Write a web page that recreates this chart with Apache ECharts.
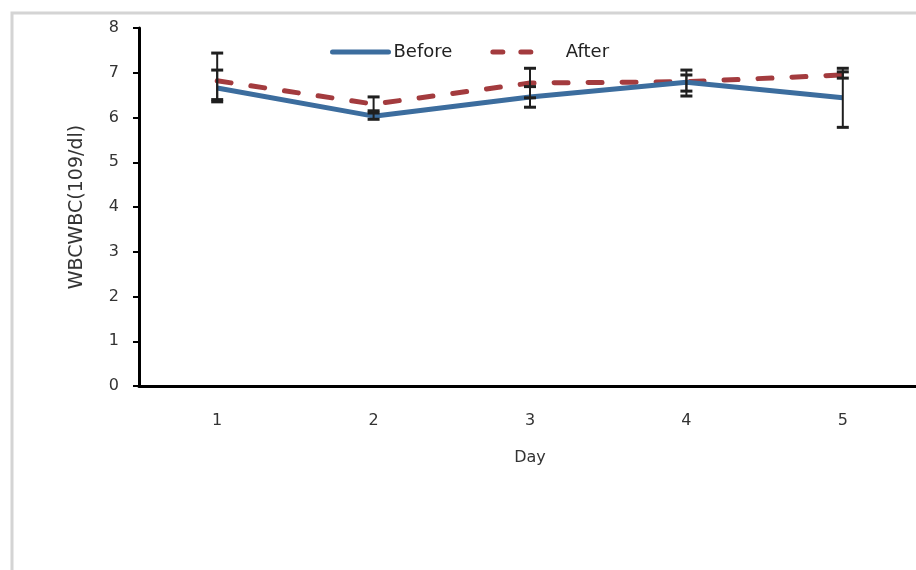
<!DOCTYPE html>
<html>
<head>
<meta charset="utf-8">
<title>WBC</title>
<script src="https://cdn.jsdelivr.net/npm/echarts@6/dist/echarts.min.js"></script>
<style>
  html, body { margin: 0; padding: 0; background: #fff; }
  #main { width: 916px; height: 570px; }
</style>
</head>
<body>
<div id="main"></div>
<script>
// data
var days = ['1', '2', '3', '4', '5'];
var before = [6.66, 6.03, 6.46, 6.79, 6.44];
var after = [6.82, 6.30, 6.77, 6.80, 6.95];
// error bar ends (absolute values)
var beforeLow = [6.35, 5.96, 6.23, 6.48, 5.78];
var beforeHigh = [7.06, 6.10, 6.69, 7.06, 7.10];
var afterLow = [6.40, 6.15, 6.44, 6.59, 6.88];
var afterHigh = [7.44, 6.46, 7.10, 6.95, 7.02];

var blue = '#3c6d9e';
var red = '#a33b3e';

var errData = [];
for (var i = 0; i < days.length; i++) {
  errData.push([i, beforeLow[i], beforeHigh[i]]);
  errData.push([i, afterLow[i], afterHigh[i]]);
}

function renderErr(params, api) {
  var x = api.value(0);
  var lo = api.coord([x, api.value(1)]);
  var hi = api.coord([x, api.value(2)]);
  var w = 6;
  var bar = { stroke: '#1f1f1f', lineWidth: 2 };
  var cap = { stroke: '#1f1f1f', lineWidth: 3 };
  return {
    type: 'group',
    children: [
      { type: 'line', shape: { x1: lo[0], y1: lo[1], x2: hi[0], y2: hi[1] }, style: bar },
      { type: 'line', shape: { x1: lo[0] - w, y1: lo[1], x2: lo[0] + w, y2: lo[1] }, style: cap },
      { type: 'line', shape: { x1: hi[0] - w, y1: hi[1], x2: hi[0] + w, y2: hi[1] }, style: cap }
    ]
  };
}

var myChart = echarts.init(document.getElementById('main'));
myChart.setOption({
  animation: false,
  textStyle: { fontFamily: 'DejaVu Sans' },
  graphic: [{
    type: 'rect',
    z: -10,
    shape: { x: 12, y: 13, width: 1000, height: 1000 },
    style: { fill: 'none', stroke: '#d4d4d4', lineWidth: 3 }
  }],
  grid: { left: 139, top: 28, width: 782, height: 358, outerBoundsMode: 'none' },
  legend: {
    data: [
      { name: 'Before', itemStyle: { color: 'rgba(0,0,0,0)', borderWidth: 0 },
        lineStyle: { color: blue, width: 5, type: 'solid', cap: 'round' } },
      { name: 'After', itemStyle: { color: 'rgba(0,0,0,0)', borderWidth: 0 },
        lineStyle: { color: red, width: 5, type: [10, 18], cap: 'round' },
        textStyle: { padding: [0, 0, 0, 12] } }
    ],
    left: 325,
    top: 38,
    itemWidth: 56,
    itemHeight: 14,
    itemGap: 38,
    textStyle: { fontSize: 18, color: '#222' }
  },
  xAxis: {
    type: 'category',
    data: days,
    boundaryGap: true,
    name: 'Day',
    nameLocation: 'middle',
    nameGap: 64,
    nameTextStyle: { fontSize: 16, color: '#333' },
    axisLine: { lineStyle: { color: '#000', width: 3 } },
    axisTick: { show: false },
    axisLabel: { margin: 27, fontSize: 16, color: '#333' }
  },
  yAxis: {
    type: 'value',
    min: 0,
    max: 8,
    interval: 1,
    name: 'WBCWBC(109/dl)',
    nameLocation: 'middle',
    nameGap: 52,
    nameTextStyle: { fontSize: 19, color: '#333' },
    axisLine: { show: true, lineStyle: { color: '#000', width: 3 } },
    axisTick: { show: true, length: 6, lineStyle: { color: '#000', width: 2 } },
    axisLabel: { margin: 20, fontSize: 16, color: '#333' },
    splitLine: { show: false }
  },
  series: [
    {
      name: 'Before',
      type: 'line',
      data: before,
      symbol: 'none',
      lineStyle: { color: blue, width: 5 },
      itemStyle: { color: blue },
      z: 3
    },
    {
      name: 'After',
      type: 'line',
      data: after,
      symbol: 'none',
      lineStyle: { color: red, width: 5, type: [14, 20], cap: 'round' },
      itemStyle: { color: red },
      z: 2
    },
    {
      name: 'err',
      type: 'custom',
      renderItem: renderErr,
      data: errData,
      z: 5
    }
  ]
});
</script>
</body>
</html>
